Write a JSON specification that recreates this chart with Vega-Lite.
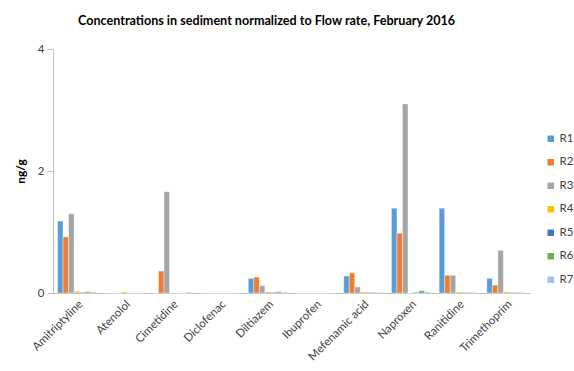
{
  "$schema": "https://vega.github.io/schema/vega-lite/v6.json",
  "width": 477,
  "height": 244,
  "autosize": {"type": "none"},
  "padding": {"left": 53, "top": 49, "right": 44, "bottom": 78},
  "background": "white",
  "title": {
    "text": "Concentrations in sediment normalized to Flow rate, February 2016",
    "font": "Lato",
    "fontSize": 12.6,
    "fontWeight": "bold",
    "color": "#000000",
    "anchor": "start",
    "frame": "group",
    "dx": 25,
    "offset": 15
  },
  "data": {
    "values": [
      {"drug": "Amitriptyline", "site": "R1", "value": 1.18},
      {"drug": "Amitriptyline", "site": "R2", "value": 0.92},
      {"drug": "Amitriptyline", "site": "R3", "value": 1.30},
      {"drug": "Amitriptyline", "site": "R4", "value": 0.03},
      {"drug": "Amitriptyline", "site": "R5", "value": 0.01},
      {"drug": "Amitriptyline", "site": "R6", "value": 0.02},
      {"drug": "Amitriptyline", "site": "R7", "value": 0.02},
      {"drug": "Atenolol", "site": "R1", "value": 0},
      {"drug": "Atenolol", "site": "R2", "value": 0},
      {"drug": "Atenolol", "site": "R3", "value": 0},
      {"drug": "Atenolol", "site": "R4", "value": 0.02},
      {"drug": "Atenolol", "site": "R5", "value": 0},
      {"drug": "Atenolol", "site": "R6", "value": 0},
      {"drug": "Atenolol", "site": "R7", "value": 0},
      {"drug": "Cimetidine", "site": "R1", "value": 0},
      {"drug": "Cimetidine", "site": "R2", "value": 0.36},
      {"drug": "Cimetidine", "site": "R3", "value": 1.66},
      {"drug": "Cimetidine", "site": "R4", "value": 0},
      {"drug": "Cimetidine", "site": "R5", "value": 0},
      {"drug": "Cimetidine", "site": "R6", "value": 0},
      {"drug": "Cimetidine", "site": "R7", "value": 0.015},
      {"drug": "Diclofenac", "site": "R1", "value": 0},
      {"drug": "Diclofenac", "site": "R2", "value": 0},
      {"drug": "Diclofenac", "site": "R3", "value": 0},
      {"drug": "Diclofenac", "site": "R4", "value": 0},
      {"drug": "Diclofenac", "site": "R5", "value": 0},
      {"drug": "Diclofenac", "site": "R6", "value": 0},
      {"drug": "Diclofenac", "site": "R7", "value": 0},
      {"drug": "Diltiazem", "site": "R1", "value": 0.24},
      {"drug": "Diltiazem", "site": "R2", "value": 0.26},
      {"drug": "Diltiazem", "site": "R3", "value": 0.12},
      {"drug": "Diltiazem", "site": "R4", "value": 0.02},
      {"drug": "Diltiazem", "site": "R5", "value": 0.01},
      {"drug": "Diltiazem", "site": "R6", "value": 0.02},
      {"drug": "Diltiazem", "site": "R7", "value": 0.01},
      {"drug": "Ibuprofen", "site": "R1", "value": 0},
      {"drug": "Ibuprofen", "site": "R2", "value": 0},
      {"drug": "Ibuprofen", "site": "R3", "value": 0},
      {"drug": "Ibuprofen", "site": "R4", "value": 0},
      {"drug": "Ibuprofen", "site": "R5", "value": 0},
      {"drug": "Ibuprofen", "site": "R6", "value": 0},
      {"drug": "Ibuprofen", "site": "R7", "value": 0},
      {"drug": "Mefenamic acid", "site": "R1", "value": 0.28},
      {"drug": "Mefenamic acid", "site": "R2", "value": 0.33},
      {"drug": "Mefenamic acid", "site": "R3", "value": 0.10},
      {"drug": "Mefenamic acid", "site": "R4", "value": 0.02},
      {"drug": "Mefenamic acid", "site": "R5", "value": 0.01},
      {"drug": "Mefenamic acid", "site": "R6", "value": 0.01},
      {"drug": "Mefenamic acid", "site": "R7", "value": 0.01},
      {"drug": "Naproxen", "site": "R1", "value": 1.39},
      {"drug": "Naproxen", "site": "R2", "value": 0.98},
      {"drug": "Naproxen", "site": "R3", "value": 3.10},
      {"drug": "Naproxen", "site": "R4", "value": 0},
      {"drug": "Naproxen", "site": "R5", "value": 0.01},
      {"drug": "Naproxen", "site": "R6", "value": 0.04},
      {"drug": "Naproxen", "site": "R7", "value": 0.02},
      {"drug": "Ranitidine", "site": "R1", "value": 1.39},
      {"drug": "Ranitidine", "site": "R2", "value": 0.29},
      {"drug": "Ranitidine", "site": "R3", "value": 0.29},
      {"drug": "Ranitidine", "site": "R4", "value": 0.02},
      {"drug": "Ranitidine", "site": "R5", "value": 0.01},
      {"drug": "Ranitidine", "site": "R6", "value": 0.01},
      {"drug": "Ranitidine", "site": "R7", "value": 0.01},
      {"drug": "Trimethoprim", "site": "R1", "value": 0.24},
      {"drug": "Trimethoprim", "site": "R2", "value": 0.13},
      {"drug": "Trimethoprim", "site": "R3", "value": 0.70},
      {"drug": "Trimethoprim", "site": "R4", "value": 0.02},
      {"drug": "Trimethoprim", "site": "R5", "value": 0.01},
      {"drug": "Trimethoprim", "site": "R6", "value": 0.01},
      {"drug": "Trimethoprim", "site": "R7", "value": 0.01}
    ]
  },
  "mark": {"type": "bar", "stroke": "white", "strokeWidth": 0.4},
  "encoding": {
    "x": {
      "field": "drug",
      "type": "nominal",
      "sort": null,
      "scale": {"paddingInner": 0.19, "paddingOuter": 0.095},
      "axis": {
        "title": null,
        "labelAngle": -45,
        "labelFont": "Lato",
        "labelFontSize": 11.5,
        "labelColor": "#404040",
        "ticks": false,
        "domainColor": "#BFBFBF",
        "labelPadding": 5
      }
    },
    "xOffset": {"field": "site", "type": "nominal", "sort": ["R1", "R2", "R3", "R4", "R5", "R6", "R7"]},
    "y": {
      "field": "value",
      "type": "quantitative",
      "scale": {"domain": [0, 4], "nice": false},
      "axis": {
        "title": "ng/g",
        "titleFont": "Lato",
        "titleFontSize": 12,
        "titleFontWeight": "bold",
        "titleColor": "#000000",
        "titlePadding": 10,
        "values": [0, 2, 4],
        "grid": false,
        "labelFont": "Lato",
        "labelFontSize": 11.5,
        "labelColor": "#404040",
        "tickColor": "#BFBFBF",
        "tickSize": 6,
        "domainColor": "#BFBFBF",
        "labelPadding": 3
      }
    },
    "color": {
      "field": "site",
      "type": "nominal",
      "scale": {
        "domain": ["R1", "R2", "R3", "R4", "R5", "R6", "R7"],
        "range": ["#5B9BD5", "#ED7D31", "#A5A5A5", "#FFC000", "#4472C4", "#70AD47", "#9DC3E6"]
      },
      "legend": {
        "title": null,
        "orient": "none",
        "legendX": 492,
        "legendY": 84,
        "symbolType": "square",
        "symbolSize": 42,
        "symbolStrokeWidth": 0,
        "labelFont": "Lato",
        "labelFontSize": 11.5,
        "labelOffset": 3,
        "labelColor": "#404040",
        "rowPadding": 10.5
      }
    }
  },
  "config": {
    "view": {"stroke": null}
  }
}
